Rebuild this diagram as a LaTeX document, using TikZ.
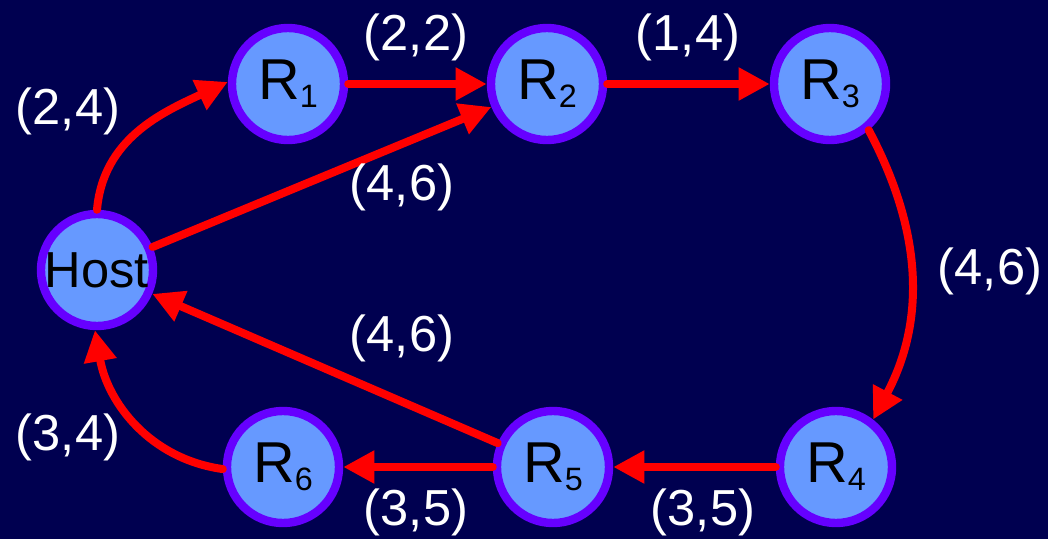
\documentclass[tikz,border=0pt]{standalone}
\usepackage{fontspec}
\setmainfont{Liberation Sans}
\usepackage{tikz}
\usetikzlibrary{arrows.meta}

\definecolor{bgnavy}{RGB}{0,0,80}
\definecolor{nodefill}{HTML}{6699FF}
\definecolor{noderim}{HTML}{6600FF}
\newcommand{\rname}[1]{R\raisebox{-0.2cm}{\fontsize{23}{23}\selectfont #1}}

\begin{document}
\begin{tikzpicture}[
    x=0.025cm, y=0.025cm,
    router/.style={circle, draw=noderim, fill=nodefill, line width=0.21cm, minimum size=2.8cm, inner sep=0pt, font=\fontsize{41}{48}\selectfont},
    lbl/.style={text=white, inner sep=0pt, font=\fontsize{36}{42}\selectfont},
    link/.style={-{Triangle[length=0.78cm, width=0.78cm]}, draw=red, line width=0.2cm, line cap=round},
]
    \fill[bgnavy] (0,0) rectangle (1048,-539);
    \useasboundingbox (0,0) rectangle (1048,-539);

    \node[router, font=\fontsize{36}{42}\selectfont] (Host) at (97,-270) {Host};
    \node[router] (R1) at (288,-84) {\rname{1}};
    \node[router] (R2) at (547,-84) {\rname{2}};
    \node[router] (R3) at (830,-84) {\rname{3}};
    \node[router] (R4) at (836,-467) {\rname{4}};
    \node[router] (R5) at (553,-467) {\rname{5}};
    \node[router] (R6) at (283,-467) {\rname{6}};

    \draw[link] (Host.90) to[out=85, in=205] (R1.178);
    \draw[link] (R1) -- (R2);
    \draw[link] (Host) -- (R2);
    \draw[link] (R2) -- (R3);
    \draw[link] (R3.-50) to[out=-62, in=62] (R4.52);
    \draw[link] (R4) -- (R5);
    \draw[link] (R5) -- (R6);
    \draw[link] (R5) -- (Host);
    \draw[link] (R6.182) to[out=172, in=-80] (Host.-92);

    \node[lbl] (w1) at (68,-111) {(2,4)};
    \node[lbl] (w2) at (416,-37) {(2,2)};
    \node[lbl] (w3) at (688,-37) {(1,4)};
    \node[lbl] (w4) at (402,-187) {(4,6)};
    \node[lbl] (w5) at (990,-271) {(4,6)};
    \node[lbl] (w6) at (402,-338) {(4,6)};
    \node[lbl] (w7) at (68,-437) {(3,4)};
    \node[lbl] (w8) at (416,-512) {(3,5)};
    \node[lbl] (w9) at (703,-512) {(3,5)};
\end{tikzpicture}
\end{document}
